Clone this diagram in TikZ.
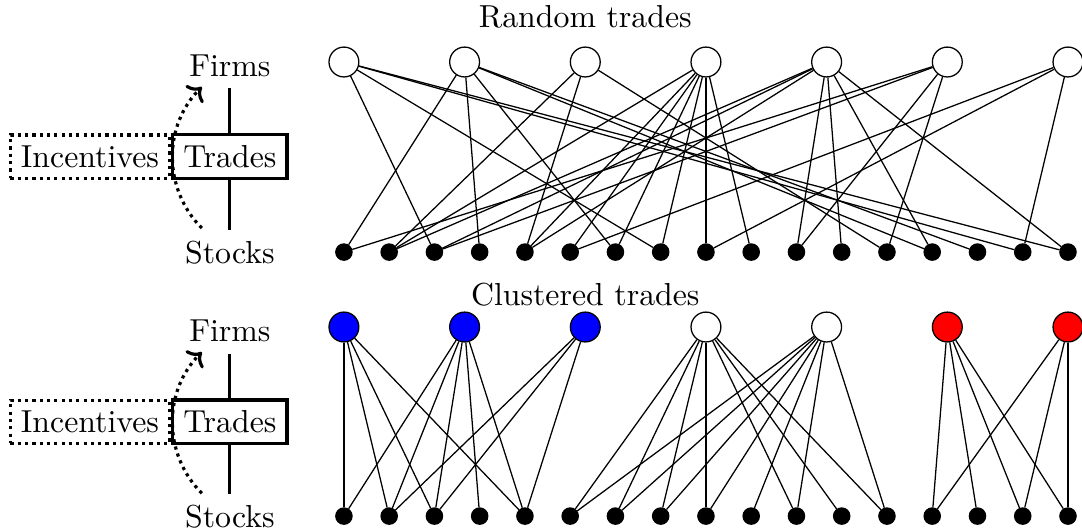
\documentclass[tikz,border=0pt]{standalone}
\usepackage{tikz}
\usetikzlibrary{arrows.meta, positioning}

\begin{document}
\begin{tikzpicture}[
  firm/.style={circle, draw=black, fill=white, minimum size=0.33cm, inner sep=0pt},
  stock/.style={circle, draw=black, fill=black, minimum size=0.18cm, inner sep=0pt},
  tradebox/.style={draw=black, line width=1pt},
  incbox/.style={draw=black, line width=1pt, dash pattern=on 1pt off 1.3pt},
  tie/.style={line width=1pt},
  nudge/.style={line width=1pt, dash pattern=on 1pt off 1.3pt, -{To[length=1.3mm]}, bend left=45},
  link/.style={draw=black, thin}
]
  \useasboundingbox (-3.80,-5.845) rectangle (8.155,0);

  % random trades
  \node (rTitle) at (2.667,-0.19) {Random trades};
  \foreach \i in {0,...,6}
    \node[firm] (rF\i) at (\i*4/3,-0.685) {};
  \foreach \j in {0,...,16}
    \node[stock] (rS\j) at (\j*0.5,-2.785) {};
  \foreach \f/\s in {0/2, 0/7, 0/15, 0/16, 1/0, 1/3, 1/6, 1/13, 1/14, 2/1, 2/4, 2/12,
                     3/1, 3/4, 3/5, 3/6, 3/7, 3/8, 3/9, 4/1, 4/2, 4/4, 4/10, 4/11, 4/13, 4/16,
                     5/0, 5/2, 5/10, 5/12, 6/5, 6/8, 6/15}
    \draw[link] (rF\f) -- (rS\s);

  \node (rFirms) at (-1.26,-0.73) {Firms};
  \node[tradebox] (rTrades) at (-1.26,-1.73) {Trades};
  \node[incbox, left=0pt of rTrades] (rInc) {Incentives};
  \node (rStocks) at (-1.26,-2.79) {Stocks};
  \draw[tie] (rFirms) -- (rTrades);
  \draw[tie] (rTrades) -- (rStocks);
  \coordinate (rLo) at (-1.57,-2.52);
  \coordinate (rHi) at (-1.57,-0.96);
  \draw[nudge] (rLo) to (rHi);

  % clustered trades
  \node (cTitle) at (2.667,-3.26) {Clustered trades};
  \foreach \i/\c in {0/blue, 1/blue, 2/blue, 3/white, 4/white, 5/red, 6/red}
    \node[firm, fill=\c] (cF\i) at (\i*4/3,-3.613) {};
  \foreach \j in {0,...,16}
    \node[stock] (cS\j) at (\j*0.5,-5.702) {};
  \foreach \f/\s in {0/0, 0/1, 0/2, 0/4, 1/0, 1/1, 1/2, 1/3, 1/4, 2/1, 2/2, 2/4,
                     3/5, 3/6, 3/7, 3/8, 3/10, 3/11, 3/12, 4/5, 4/6, 4/7, 4/8, 4/9, 4/10, 4/12,
                     5/13, 5/14, 5/15, 5/16, 6/13, 6/15, 6/16}
    \draw[link] (cF\f) -- (cS\s);

  \node (cFirms) at (-1.26,-3.66) {Firms};
  \node[tradebox] (cTrades) at (-1.26,-4.66) {Trades};
  \node[incbox, left=0pt of cTrades] (cInc) {Incentives};
  \node (cStocks) at (-1.26,-5.71) {Stocks};
  \draw[tie] (cFirms) -- (cTrades);
  \draw[tie] (cTrades) -- (cStocks);
  \coordinate (cLo) at (-1.57,-5.45);
  \coordinate (cHi) at (-1.57,-3.89);
  \draw[nudge] (cLo) to (cHi);
\end{tikzpicture}
\end{document}
